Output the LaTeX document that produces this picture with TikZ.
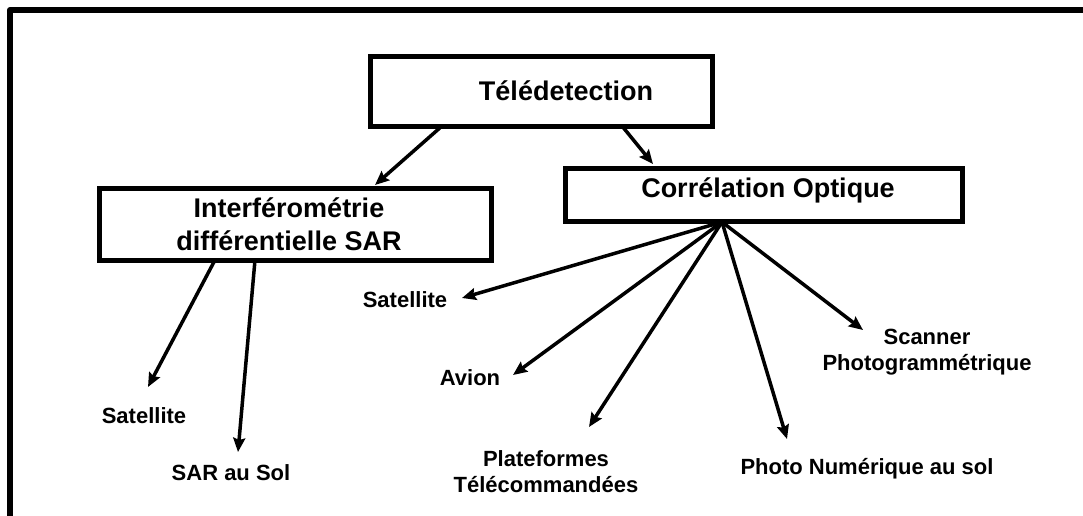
\documentclass[tikz,border=0pt]{standalone}
\usepackage{fontspec}
\setmainfont{Liberation Sans}
\usetikzlibrary{arrows.meta}
\begin{document}
\begin{tikzpicture}[x=1pt,y=-1pt,
  frame/.style={line width=6pt, line join=round},
  boxnode/.style={draw, line width=5pt, inner sep=0pt},
  boxtext/.style={font=\fontsize{27}{33}\selectfont\bfseries, anchor=base, align=center, inner sep=0pt},
  leaf/.style={font=\fontsize{22}{25.5}\selectfont\bfseries, anchor=base, align=center, inner sep=0pt},
  arr/.style={line width=3.5pt, -{Stealth[length=14pt,width=12pt,inset=2pt]}}]
\useasboundingbox (0,0) rectangle (1083,516);
\draw[frame] (10,516) -- (10,10) -- (1083,10);

% boxes
\node[boxnode, minimum width=342pt, minimum height=69pt] (tele) at (541,91.5) {};
\node[boxnode, minimum width=391.5pt, minimum height=71.5pt] (inter) at (295.25,224.25) {};
\node[boxnode, minimum width=397pt, minimum height=53pt] (corr) at (763.5,195) {};

% (for two-line texts the base anchor is the baseline of the last line)
\node[boxtext] (teletxt) at (566,100.5) {Télédetection};
\node[boxtext] (intertxt) at (289,250) {Interférométrie\\différentielle SAR};
\node[boxtext] (corrtxt) at (768,197) {Corrélation Optique};

% leaves
\node[leaf] (satR) at (405,307) {Satellite};
\node[leaf] (avion) at (470,385) {Avion};
\node[leaf] (scan) at (927,370) {Scanner\\Photogrammétrique};
\node[leaf] (plat) at (546,492) {Plateformes\\Télécommandées};
\node[leaf] (photo) at (867,474) {Photo Numérique au sol};
\node[leaf] (satL) at (144,423) {Satellite};
\node[leaf] (sarsol) at (231,480) {SAR au Sol};

% connector end points
\coordinate (t1) at (442,126);
\coordinate (t2) at (622,126);
\coordinate (i1) at (215,260);
\coordinate (i2) at (255,260);
\coordinate (hub) at (722,222);
\coordinate (interTop) at (375,185);
\coordinate (corrTop) at (653,164);
\coordinate (satLend) at (148,387);
\coordinate (sarsolend) at (238,452);
\coordinate (satRend) at (462,298);
\coordinate (avionend) at (513,375);
\coordinate (platend) at (589,427);
\coordinate (photoend) at (787,439);
\coordinate (scanend) at (863,330);

\draw[arr] (t1) -- (interTop);
\draw[arr] (t2) -- (corrTop);
\draw[arr] (i1) -- (satLend);
\draw[arr] (i2) -- (sarsolend);
\draw[arr] (hub) -- (satRend);
\draw[arr] (hub) -- (avionend);
\draw[arr] (hub) -- (platend);
\draw[arr] (hub) -- (photoend);
\draw[arr] (hub) -- (scanend);
\end{tikzpicture}
\end{document}
